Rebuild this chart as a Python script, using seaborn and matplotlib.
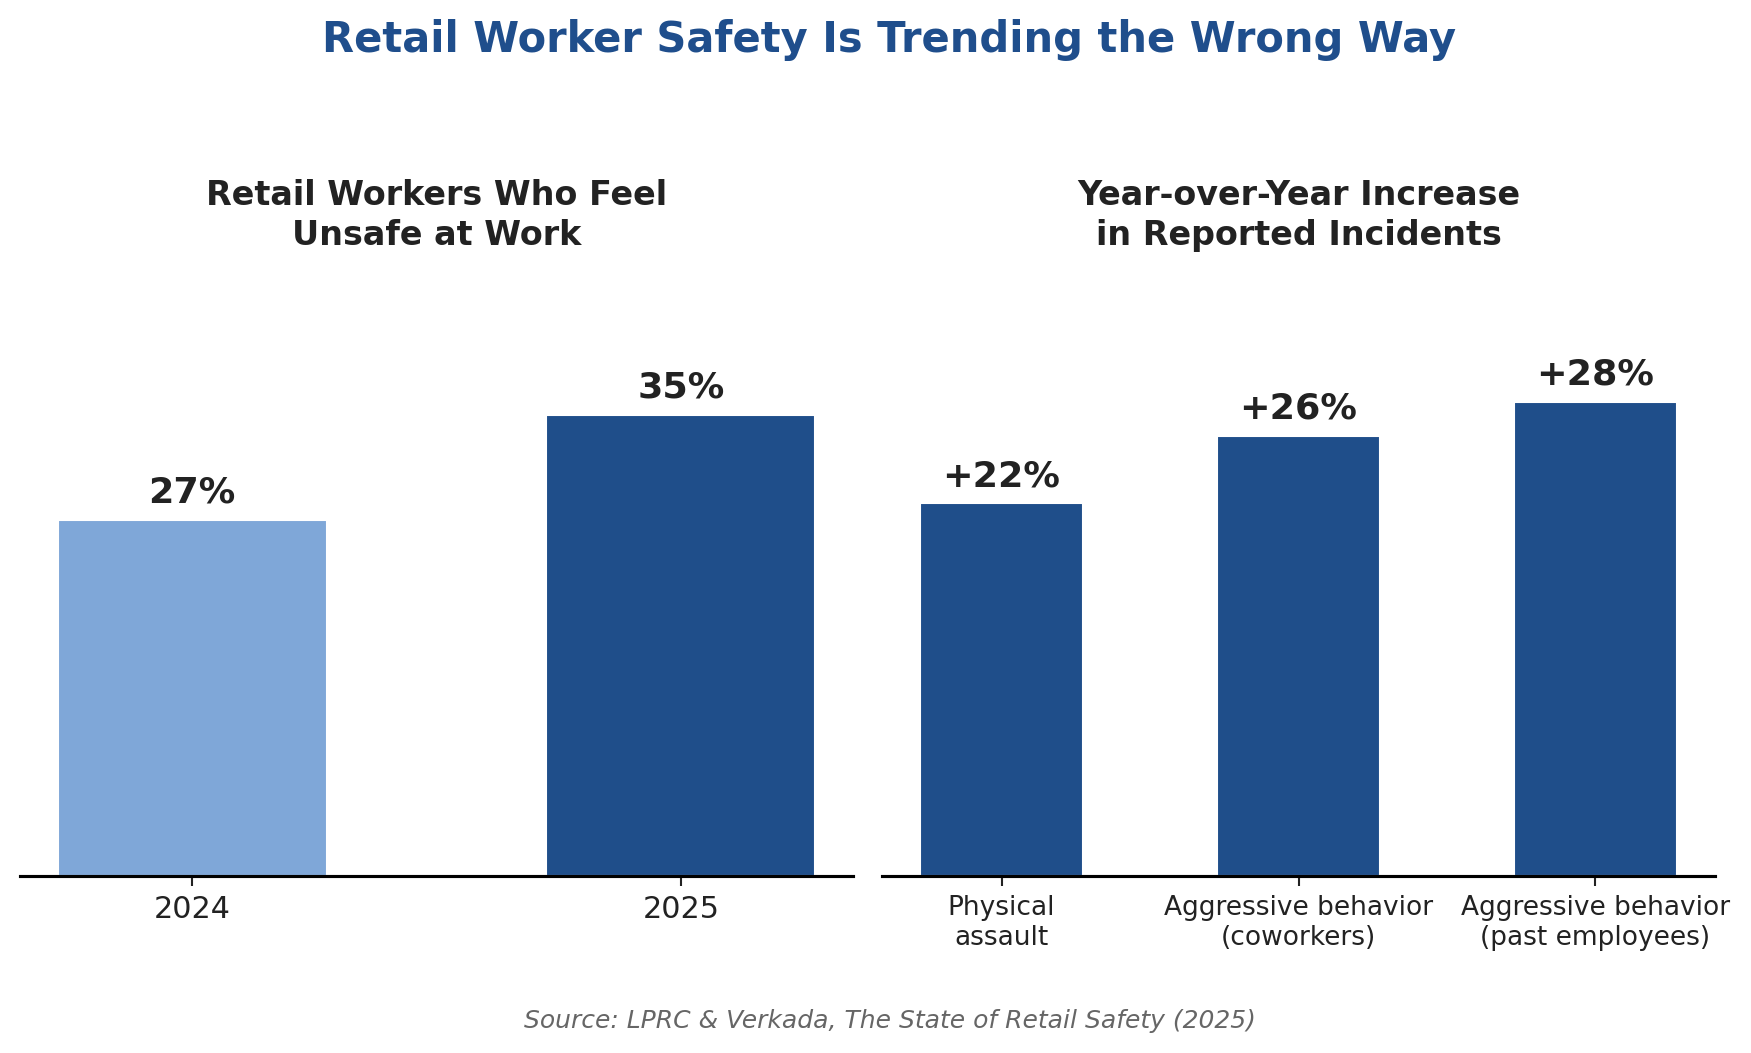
import pandas as pd
import seaborn as sns
import matplotlib.pyplot as plt

custom_params = {"axes.spines.right": False, "axes.spines.top": False,
                 "axes.spines.left": False}
sns.set_theme(style="white", rc=custom_params)
plt.rcParams['font.family'] = ['DejaVu Sans']

# data
years = ['2024', '2025']
unsafe_pct = [27, 35]
incident_types = ['Physical\nassault',
                  'Aggressive behavior\n(coworkers)',
                  'Aggressive behavior\n(past employees)']
incident_increase = [22, 26, 28]

LIGHT = '#7fa7d8'
DARK = '#1f4e8a'
INK = '#222222'


def style_axis(ax, top, tick_size):
    ax.set_ylim(0, top)
    ax.autoscale(enable=True, axis='x')
    ax.set_xlabel('')
    ax.set_ylabel('')
    ax.set_yticks([])
    ax.spines['bottom'].set_color('black')
    ax.spines['bottom'].set_linewidth(1.5)
    ax.tick_params(axis='x', bottom=True, length=5, width=1, color=INK,
                   labelsize=tick_size, labelcolor=INK, pad=4)


fig, (ax1, ax2) = plt.subplots(1, 2, figsize=(11.674, 7.02), dpi=150)
fig.subplots_adjust(left=0.0114, right=0.9794, bottom=0.168, top=0.731,
                    wspace=0.0348)

left = pd.DataFrame({'year': years, 'pct': unsafe_pct})
sns.barplot(data=left, x='year', y='pct', hue='year', palette=[LIGHT, DARK],
            width=0.55, legend=False, saturation=1, ax=ax1)
for cont in ax1.containers:
    ax1.bar_label(cont, labels=[f'{v:.0f}%' for v in cont.datavalues],
                  padding=5, fontsize=17.5, fontweight='bold', color=INK)
ax1.set_title('Retail Workers Who Feel\nUnsafe at Work', fontsize=16,
              fontweight='bold', color=INK, pad=18.5, linespacing=1.25)
style_axis(ax1, 45, 14.5)

right = pd.DataFrame({'kind': incident_types, 'inc': incident_increase})
sns.barplot(data=right, x='kind', y='inc', color=DARK, width=0.55,
            saturation=1, ax=ax2)
for cont in ax2.containers:
    ax2.bar_label(cont, labels=[f'+{v:.0f}%' for v in cont.datavalues],
                  padding=5, fontsize=17.5, fontweight='bold', color=INK)
ax2.set_title('Year-over-Year Increase\nin Reported Incidents', fontsize=16,
              fontweight='bold', color=INK, pad=18.5, linespacing=1.25)
style_axis(ax2, 35, 12.7)

fig.suptitle('Retail Worker Safety Is Trending the Wrong Way', fontsize=20,
             fontweight='bold', color='#1f4e8c', x=0.508, y=0.982)
fig.text(0.508, 0.030, 'Source: LPRC & Verkada, The State of Retail Safety (2025)',
         ha='center', va='center', fontsize=12, style='italic', color='#666666')

plt.savefig('out.png', dpi=150)
